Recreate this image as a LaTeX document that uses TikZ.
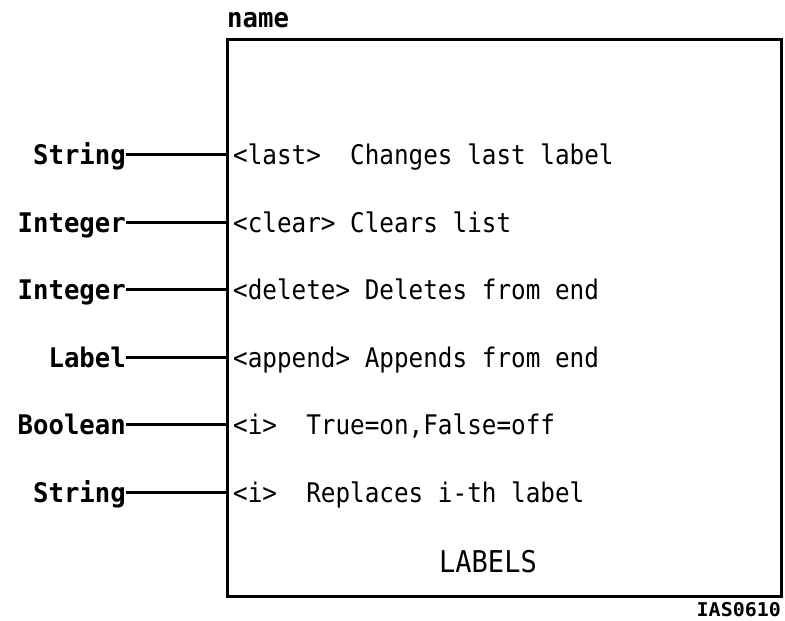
\documentclass[tikz,border=0pt]{standalone}
\usepackage{fontspec}
\newfontfamily\plotfont[FakeStretch=0.9]{DejaVu Sans Mono}
\newfontfamily\portfont[FakeStretch=0.95]{DejaVu Sans Mono}
\newfontfamily\tagfont[FakeStretch=1.05]{DejaVu Sans Mono}
\usetikzlibrary{positioning}
\tikzset{
  port/.style={anchor=east, inner sep=0pt, text height=19.7pt, text depth=0pt,
    font=\portfont\bfseries\fontsize{27}{30}\selectfont},
  slot/.style={anchor=west, inner sep=0pt, text height=19.7pt, text depth=0pt,
    font=\plotfont\fontsize{27}{30}\selectfont},
  wire/.style={line width=3pt}
}

\begin{document}
\begin{tikzpicture}[x=1pt, y=1pt]
\useasboundingbox (0,0) rectangle (785,621);
\node (labels) [draw, line width=3pt, minimum width=554pt, minimum height=557pt, inner sep=0pt] at (504,302.5) {};
\node (name) [anchor=base west, inner sep=0pt, font=\portfont\bfseries\fontsize{27}{30}\selectfont] at (227,593) {name};
\node (title) [inner sep=0pt, font=\plotfont\fontsize{30}{33}\selectfont] at (488,59) {LABELS};
\node (code) [anchor=base east, inner sep=0pt, font=\tagfont\bfseries\fontsize{19}{21}\selectfont] at (781,4) {IAS0610};
% inputs on the left side
\node (last) [port] at (126,466) {String};
\node (clear) [port] at (126,398) {Integer};
\node (delete) [port] at (126,331) {Integer};
\node (append) [port] at (126,263) {Label};
\node (ion) [port] at (126,196) {Boolean};
\node (ilabel) [port] at (126,128) {String};
% slot texts inside the box
\node (lastd) [slot] at (233,466) {<last>~~Changes last label};
\node (cleard) [slot] at (233,398) {<clear>~Clears list};
\node (deleted) [slot] at (233,331) {<delete>~Deletes from end};
\node (appendd) [slot] at (233,263) {<append>~Appends from end};
\node (iond) [slot] at (233,196) {<i>~~True=on,False=off};
\node (ilabeld) [slot] at (233,128) {<i>~~Replaces i-th label};
\path[wire]
  (last) edge (last -| labels.west)
  (clear) edge (clear -| labels.west)
  (delete) edge (delete -| labels.west)
  (append) edge (append -| labels.west)
  (ion) edge (ion -| labels.west)
  (ilabel) edge (ilabel -| labels.west);
\end{tikzpicture}
\end{document}
